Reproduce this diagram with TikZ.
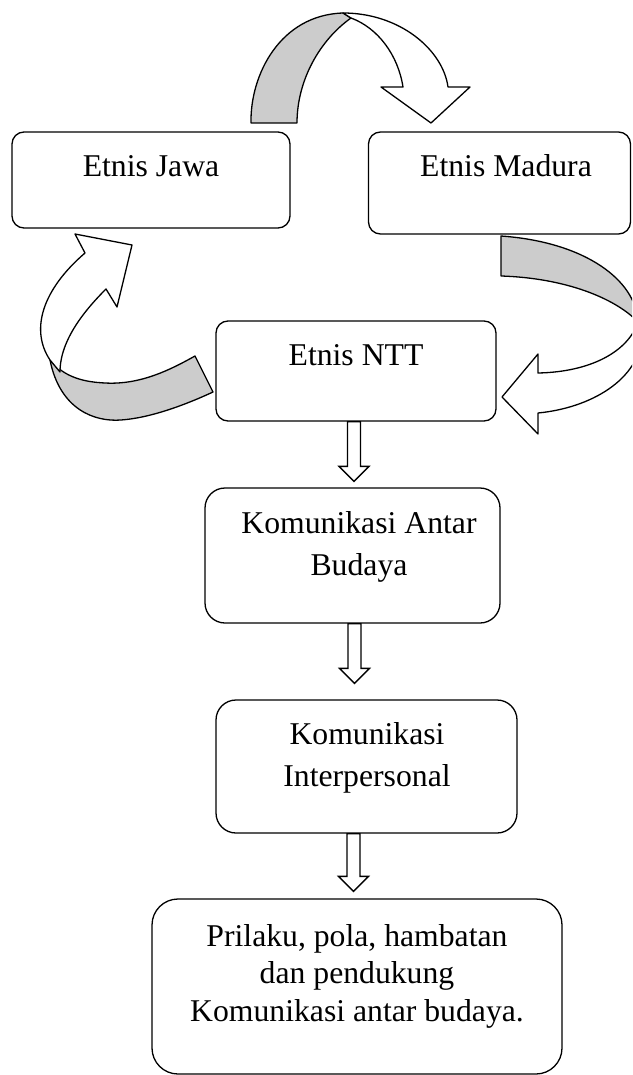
\documentclass[tikz,border=0pt]{standalone}
\usepackage{fontspec}
\setmainfont{Liberation Serif}
\usetikzlibrary{calc}

\definecolor{shade}{gray}{0.8}

% block arrow pointing down: #1 start, #2 tip
\newcommand{\downblk}[2]{%
  \draw[blkarrow] let \p1=(#1), \p2=(#2) in
    (\x1-6.5pt,\y1) -- (\x1+6.5pt,\y1) -- (\x1+6.5pt,\y2+15pt) -- (\x1+15pt,\y2+15pt)
    -- (\x1,\y2) -- (\x1-15pt,\y2+15pt) -- (\x1-6.5pt,\y2+15pt) -- cycle;}

\begin{document}
\begin{tikzpicture}[x=1pt,y=-1pt,
    box/.style={draw, line width=1.3pt, rounded corners=12pt, inner sep=0pt},
    txt/.style={inner sep=0pt, align=center, font=\fontsize{31.7}{42}\selectfont},
    ribbon/.style={draw, line width=1.3pt, line join=round, fill=white},
    ribbonback/.style={draw, line width=1.3pt, line join=round, fill=shade},
    blkarrow/.style={draw, line width=1.3pt, fill=white}]
    \useasboundingbox (0,0) rectangle (632,1075);

    % Define the boxes
    \foreach \name/\cx/\cy/\w/\h/\r in {jawa/151/180/278/96/12, madura/499.5/183/262/102/12,
        ntt/356/371/280/100/12, antar/352.5/555.5/295/135/20,
        inter/366.5/766.5/301/133/20, hasil/357/986.5/410/175/26}
    {
        \node[box, rounded corners=\r pt, minimum width=\w pt, minimum height=\h pt] (\name) at (\cx,\cy) {};
    }

    % Texts in the boxes (base = last line)
    \node[txt, anchor=base] (jawaText) at (151,177) {Etnis Jawa};
    \node[txt, anchor=base] (maduraText) at (506,177) {Etnis Madura};
    \node[txt, anchor=base] (nttText) at (356,365) {Etnis NTT};
    \node[txt, anchor=base] (antarText) at (359,575) {Komunikasi Antar\\Budaya};
    \node[txt, anchor=base] (interText) at (367,786) {Komunikasi\\Interpersonal};
    \node[txt, anchor=base, font=\fontsize{31.7}{37.5}\selectfont] (hasilText) at (357,1021)
        {Prilaku, pola, hambatan\\dan pendukung\\Komunikasi antar budaya.};

    % Curved arrow from Jawa to Madura
    \draw[ribbonback] (251,123) .. controls (250,75) and (280,15) .. (343,13) -- (351,18)
        .. controls (320,40) and (297,80) .. (297,123) -- cycle;
    \draw[ribbon] (343,13) .. controls (400,13) and (443,50) .. (448,87) -- (470,87) -- (431,123)
        -- (381,87) -- (403,87) .. controls (398,55) and (378,28) .. (351,18) -- cycle;

    % Curved arrow from Madura to NTT (runs off the right edge)
    \begin{scope}
        \clip (0,0) rectangle (632,1075);
        \draw[ribbonback] (501,236) .. controls (585,242) and (636,280) .. (638,322)
            .. controls (615,298) and (565,278) .. (501,276) -- cycle;
        \draw[ribbon] (638,322) .. controls (628,352) and (590,372) .. (538,373) -- (538,354) -- (502,397)
            -- (538,434) -- (538,413) .. controls (590,408) and (640,380) .. (642,335) -- cycle;
    \end{scope}

    % Curved arrow from NTT to Jawa
    \draw[ribbonback] (50,360) .. controls (60,410) and (95,422) .. (121,420)
        .. controls (150,418) and (185,405) .. (213,392) -- (195,356)
        .. controls (170,370) and (140,385) .. (105,383) .. controls (85,382) and (65,378) .. (50,360) -- cycle;
    \draw[ribbon] (50,360) .. controls (30,330) and (42,290) .. (85,253) -- (75,234) -- (132,245)
        -- (117,307) -- (106,289) .. controls (85,310) and (60,340) .. (60,372) -- cycle;

    % Straight block arrows
    \downblk{$(ntt.south)+(-2,0)$}{$(antar.north)+(1.5,-6)$}
    \downblk{$(antar.south)+(2,0)$}{$(inter.north)+(-12.5,-16)$}
    \downblk{$(inter.south)+(-13,0)$}{$(hasil.north)+(-3.5,-7)$}
\end{tikzpicture}
\end{document}
